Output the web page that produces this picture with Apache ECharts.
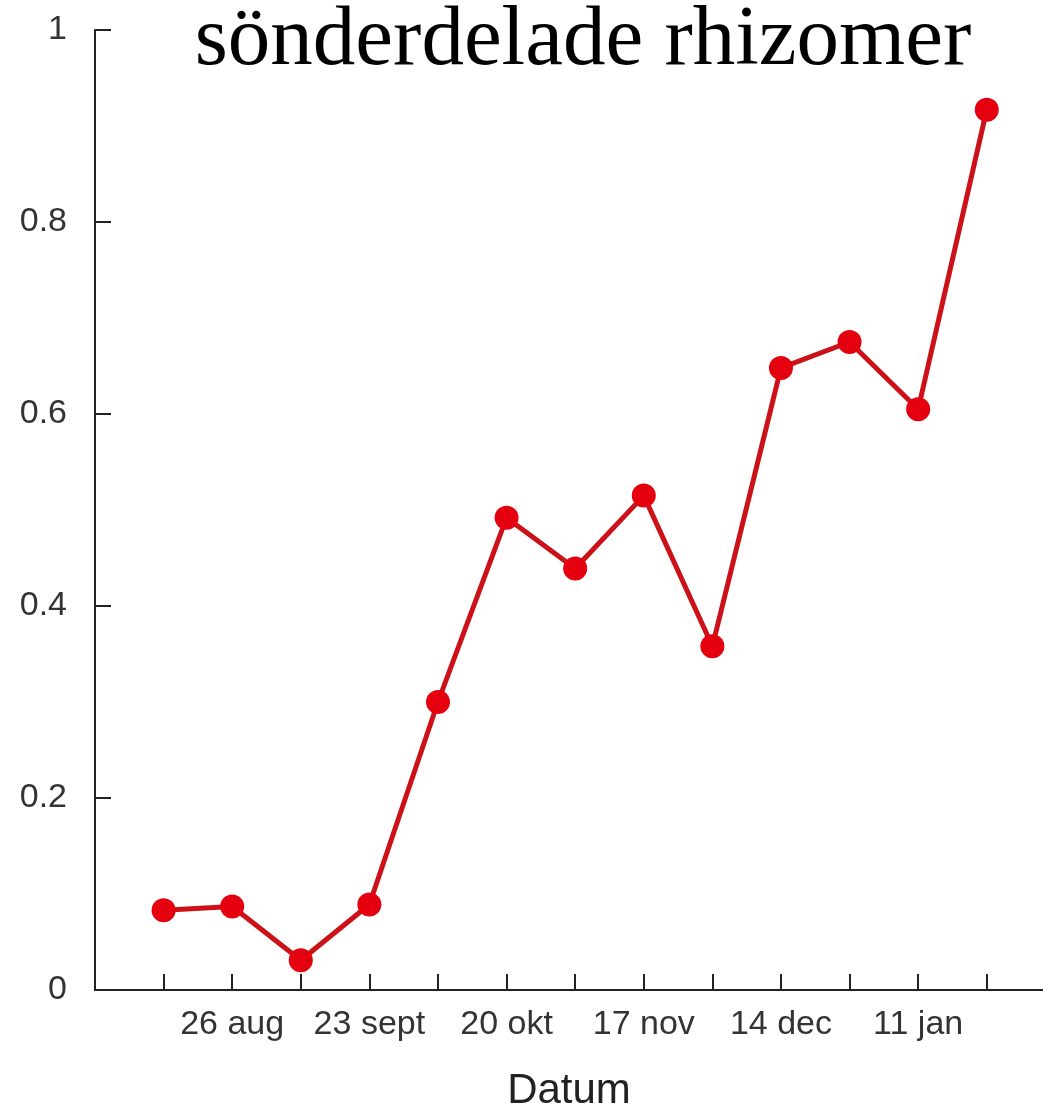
<!DOCTYPE html>
<html>
<head>
<meta charset="utf-8">
<script src="https://cdn.jsdelivr.net/npm/echarts@6/dist/echarts.min.js"></script>
<style>
  html, body { margin: 0; padding: 0; background: #fff; }
  #chart { width: 1043px; height: 1113px; }
</style>
</head>
<body>
<div id="chart"></div>
<script>
// tick labels: only every other tick is labelled
const dateLabels = ['', '', '26 aug', '', '23 sept', '', '20 okt', '', '17 nov', '', '14 dec', '', '11 jan', ''];
const sampleIdx = [1, 2, 3, 4, 5, 6, 7, 8, 9, 10, 11, 12, 13];
const values = [0.083, 0.087, 0.031, 0.089, 0.30, 0.492, 0.439, 0.515, 0.358, 0.648, 0.675, 0.605, 0.917];

const chart = echarts.init(document.getElementById('chart'));
chart.setOption({
  animation: false,
  title: {
    text: 'sönderdelade rhizomer',
    left: 578,
    textAlign: 'center',
    top: -6,
    textStyle: {
      fontFamily: 'Liberation Serif',
      fontWeight: 'normal',
      fontSize: 85,
      color: '#000'
    }
  },
  grid: { left: 95, right: 0, top: 30, bottom: 123, outerBoundsMode: 'none', containLabel: false },
  xAxis: {
    type: 'value',
    min: 0,
    max: 13.82,
    interval: 1,
    name: 'Datum',
    nameLocation: 'middle',
    nameGap: 80,
    nameTextStyle: { fontFamily: 'Liberation Sans', fontSize: 42, color: '#222' },
    axisLine: { lineStyle: { color: '#222', width: 2 } },
    axisTick: { inside: true, length: 16, lineStyle: { color: '#222', width: 2 } },
    splitLine: { show: false },
    axisLabel: {
      margin: 18,
      fontFamily: 'Liberation Sans',
      fontSize: 34,
      color: '#333',
      showMaxLabel: false,
      formatter: v => dateLabels[v] || ''
    }
  },
  yAxis: {
    type: 'value',
    min: 0,
    max: 1,
    interval: 0.2,
    axisLine: { show: true, lineStyle: { color: '#222', width: 2 } },
    axisTick: { show: true, inside: true, length: 16, lineStyle: { color: '#222', width: 2 } },
    splitLine: { show: false },
    axisLabel: {
      margin: 28,
      fontFamily: 'Liberation Sans',
      fontSize: 34,
      color: '#333'
    }
  },
  series: [{
    type: 'line',
    data: sampleIdx.map((x, i) => [x, values[i]]),
    symbol: 'circle',
    symbolSize: 24,
    lineStyle: { color: '#cc1119', width: 5 },
    itemStyle: { color: '#e5000f' }
  }]
});
</script>
</body>
</html>
